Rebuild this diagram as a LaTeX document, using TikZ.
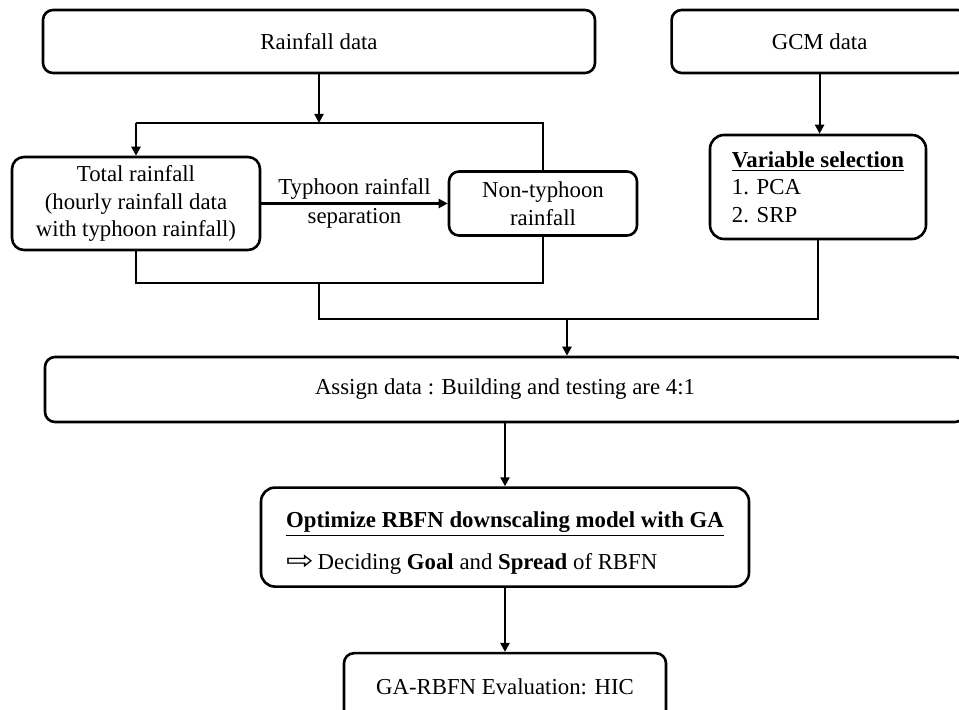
\documentclass[tikz,border=0pt]{standalone}
\usepackage{fontspec}
\setmainfont{Liberation Serif}
\newfontfamily\symfont{DejaVu Sans}
\usetikzlibrary{arrows.meta,positioning}

\begin{document}
\begin{tikzpicture}[
  x=0.5pt, y=-0.5pt,
  font=\fontsize{11.4}{13.75}\selectfont,
  box/.style={draw, line width=1.3pt, rounded corners=5pt, align=center, inner sep=0pt},
  arr/.style={-{Triangle[length=4.5pt,width=4.5pt]}, line width=1.1pt},
  ln/.style={line width=1.1pt}
]
\clip (0,0) rectangle (959,710);
% data sources
\node[box, minimum width=276pt, minimum height=31.5pt] (rain) at (319,41.5) {Rainfall data};
\node[box, minimum width=148pt, minimum height=31.5pt, right=37pt of rain] (gcm) {GCM data};
% rainfall split
\node[box, rounded corners=6pt, minimum width=124pt, minimum height=46.5pt] (total) at (136,203.5) {Total rainfall\\(hourly rainfall data\\with typhoon rainfall)};
\node[box, minimum width=94pt, minimum height=32pt] (nontyph) at (543,203.5) {Non-typhoon\\rainfall};
\node[box, rounded corners=7pt, minimum width=108pt, minimum height=52pt, align=left] (varsel) at (818,187) {\underline{\textbf{Variable selection}}\\1. PCA\\2. SRP};
% model steps
\node[box, minimum width=460pt, minimum height=32.5pt] (assign) at (505,389.5) {Assign data : Building and testing are 4:1};
\node[box, rounded corners=7pt, minimum width=244pt, minimum height=49.5pt, align=left, below=31.5pt of assign] (optim) {\rule{0pt}{14pt}\underline{\textbf{Optimize RBFN downscaling model with GA}}\\[7pt]\scalebox{1.45}[1.15]{\symfont ⇨}\,Deciding \textbf{Goal} and \textbf{Spread} of RBFN};
\node[box, minimum width=161pt, minimum height=34pt, below=32pt of optim] (hic) {GA-RBFN Evaluation: HIC};
% junctions
\coordinate (tl) at (136,123);
\coordinate (tr) at (543,123);
\coordinate (bl) at (136,283);
\coordinate (br) at (543,283);
\coordinate (bm) at (319,283);
\coordinate (jl) at (319,319);
\coordinate (jr) at (818,319);
\coordinate (ja) at (567,319);
% connectors
\draw[arr] (rain.south) -- (rain.south |- tl);
\draw[ln] (tl) -- (tr) -- (nontyph.north);
\draw[arr] (tl) -- (total.north);
\draw[arr] (total.east) -- (nontyph.west) node[midway, align=center] {Typhoon rainfall\\[1pt]separation};
\draw[ln] (total.south) -- (bl) -- (br) -- (nontyph.south);
\draw[arr] (gcm.south) -- (gcm.south |- varsel.north);
\draw[ln] (bm) -- (jl) -- (jr) -- (varsel.south);
\draw[arr] (ja) -- (ja |- assign.north);
\draw[arr] (assign) -- (optim);
\draw[arr] (optim) -- (hic);
\end{tikzpicture}
\end{document}
